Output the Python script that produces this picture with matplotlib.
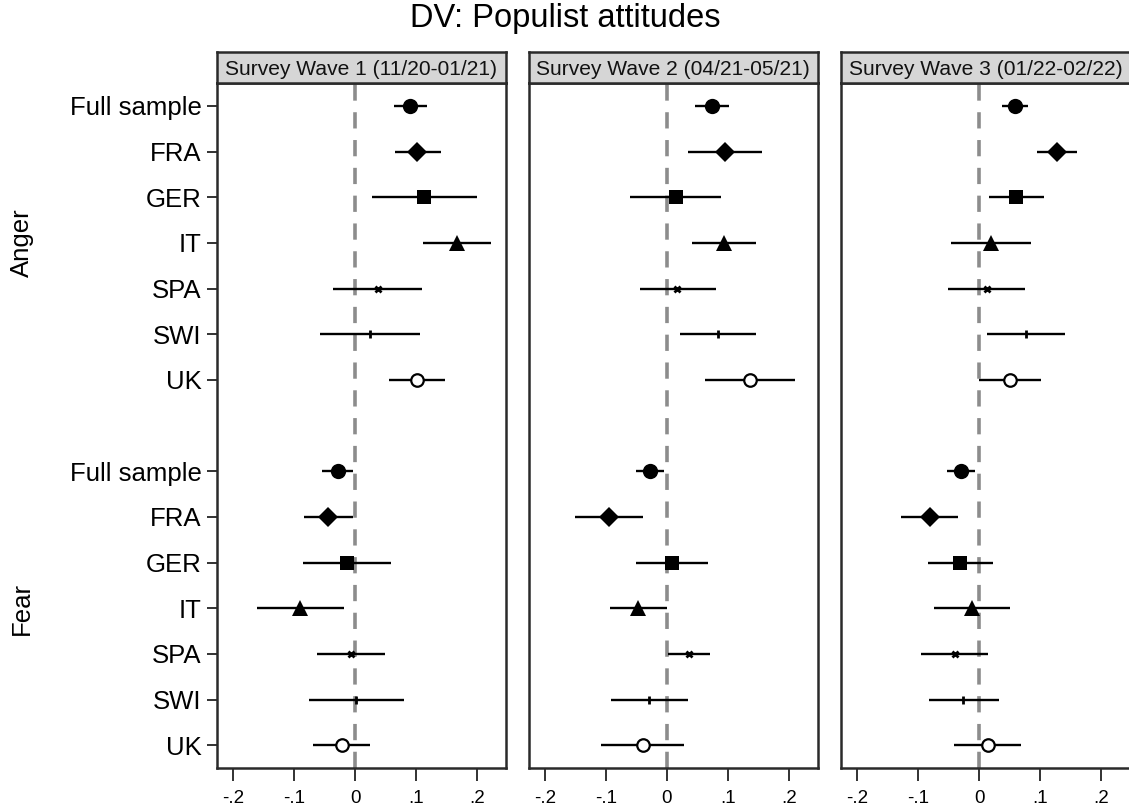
import matplotlib
matplotlib.use("Agg")
import matplotlib.pyplot as plt

plt.rcParams['font.family'] = ['Liberation Sans', 'DejaVu Sans']

categories = ["Full sample", "FRA", "GER", "IT", "SPA", "SWI", "UK"]
groups = ["Anger", "Fear"]
waves = ["Survey Wave 1 (11/20-01/21)", "Survey Wave 2 (04/21-05/21)", "Survey Wave 3 (01/22-02/22)"]
xtick_vals = [-0.2, -0.1, 0.0, 0.1, 0.2]
xtick_labels = ["-.2", "-.1", "0", ".1", ".2"]

# Wave 1
w1_anger_est = [0.090, 0.102, 0.113, 0.167, 0.037, 0.024, 0.102]
w1_anger_lo = [0.063, 0.065, 0.027, 0.111, -0.036, -0.058, 0.056]
w1_anger_hi = [0.118, 0.141, 0.200, 0.223, 0.109, 0.106, 0.148]
w1_fear_est = [-0.028, -0.044, -0.013, -0.091, -0.007, 0.001, -0.022]
w1_fear_lo = [-0.054, -0.084, -0.085, -0.161, -0.063, -0.075, -0.069]
w1_fear_hi = [-0.003, -0.003, 0.059, -0.019, 0.049, 0.080, 0.025]
# Wave 2
w2_anger_est = [0.073, 0.095, 0.014, 0.093, 0.017, 0.084, 0.136]
w2_anger_lo = [0.046, 0.034, -0.061, 0.041, -0.045, 0.022, 0.062]
w2_anger_hi = [0.101, 0.155, 0.089, 0.146, 0.080, 0.146, 0.210]
w2_fear_est = [-0.028, -0.095, 0.009, -0.047, 0.036, -0.030, -0.040]
w2_fear_lo = [-0.051, -0.150, -0.050, -0.093, 0.002, -0.092, -0.108]
w2_fear_hi = [-0.005, -0.039, 0.067, 0.000, 0.070, 0.034, 0.028]
# Wave 3
w3_anger_est = [0.058, 0.127, 0.061, 0.020, 0.012, 0.077, 0.050]
w3_anger_lo = [0.037, 0.095, 0.016, -0.047, -0.051, 0.013, 0.000]
w3_anger_hi = [0.080, 0.160, 0.107, 0.085, 0.075, 0.141, 0.101]
w3_fear_est = [-0.030, -0.081, -0.031, -0.012, -0.040, -0.026, 0.014]
w3_fear_lo = [-0.052, -0.128, -0.084, -0.074, -0.095, -0.083, -0.041]
w3_fear_hi = [-0.007, -0.035, 0.022, 0.051, 0.015, 0.033, 0.069]

wave_data = [
    (w1_anger_est, w1_anger_lo, w1_anger_hi, w1_fear_est, w1_fear_lo, w1_fear_hi),
    (w2_anger_est, w2_anger_lo, w2_anger_hi, w2_fear_est, w2_fear_lo, w2_fear_hi),
    (w3_anger_est, w3_anger_lo, w3_anger_hi, w3_fear_est, w3_fear_lo, w3_fear_hi),
]

marker_styles = [
    dict(marker='o', ms=11, mfc='black', mec='black', mew=0),
    dict(marker='D', ms=10.5, mfc='black', mec='black', mew=0),
    dict(marker='s', ms=10.5, mfc='black', mec='black', mew=0),
    dict(marker='^', ms=12, mfc='black', mec='black', mew=0),
    dict(marker='x', ms=4.5, mfc='black', mec='black', mew=2),
    dict(marker='|', ms=6, mfc='black', mec='black', mew=2),
    dict(marker='o', ms=9, mfc='white', mec='black', mew=1.6),
]

W, H = 1129, 809
fig = plt.figure(figsize=(W / 100, H / 100), dpi=100)
fig.patch.set_facecolor('white')

panel_lefts = [216.7, 528.5, 840.7]
panel_w = 289.5
top_px, bot_px = 83, 768
strip_top = 52

n = len(categories)
anger_pos = list(range(1, n + 1))
fear_pos = list(range(n + 2, 2 * n + 2))

frame_color = '#2a2a2a'

for i, (left, data) in enumerate(zip(panel_lefts, wave_data)):
    ax = fig.add_axes([left / W, (H - bot_px) / H, panel_w / W, (bot_px - top_px) / H])
    ax.axvline(0, color='#8c8c8c', lw=2.6, ls=(0, (4.5, 3.2)), zorder=1)
    a_est, a_lo, a_hi, f_est, f_lo, f_hi = data
    for est, lo, hi, pos in ((a_est, a_lo, a_hi, anger_pos), (f_est, f_lo, f_hi, fear_pos)):
        for k in range(n):
            ax.plot([lo[k], hi[k]], [pos[k], pos[k]], color='black', lw=1.7,
                    solid_capstyle='butt', zorder=2)
            ax.plot([est[k]], [pos[k]], ls='none', zorder=3, **marker_styles[k])
    ax.set_xlim(-0.227, 0.2475)
    ax.set_ylim(2 * n + 1.5, 0.5)
    ax.set_xticks(xtick_vals)
    ax.set_xticklabels(xtick_labels, fontsize=13.5)
    ax.tick_params(axis='x', length=9, width=1.3, color='#222222', pad=7)
    if i == 0:
        ax.set_yticks(anger_pos + fear_pos)
        ax.set_yticklabels(categories + categories, fontsize=18.5)
        ax.tick_params(axis='y', length=7, width=1.3, color='#222222', pad=4)
    else:
        ax.set_yticks([])
    for sp in ax.spines.values():
        sp.set_color(frame_color)
        sp.set_linewidth(1.8)

    sax = fig.add_axes([left / W, (H - top_px) / H, panel_w / W, (top_px - strip_top) / H])
    sax.set_facecolor('#d6d6d6')
    sax.set_xticks([])
    sax.set_yticks([])
    for sp in sax.spines.values():
        sp.set_color(frame_color)
        sp.set_linewidth(1.8)
    sax.text(0.5, 0.45, waves[i], ha='center', va='center', fontsize=15.1,
             transform=sax.transAxes, color='#111111')

# Group labels
ax0_bottom = (H - bot_px) / H
ax0_height = (bot_px - top_px) / H
def ypos_to_fig(y):
    ylo, yhi = 2 * n + 1.5, 0.5
    frac = (y - ylo) / (yhi - ylo)
    return ax0_bottom + frac * ax0_height

anger_center = (anger_pos[0] + anger_pos[-1]) / 2
fear_center = (fear_pos[0] + fear_pos[-1]) / 2
fig.text(22 / W, ypos_to_fig(anger_center), groups[0], rotation=90, ha='center', va='center', fontsize=18.5)
fig.text(22 / W, ypos_to_fig(fear_center), groups[1], rotation=90, ha='center', va='center', fontsize=18.5)

fig.text(565 / W, 1 - 19 / H, "DV: Populist attitudes", ha='center', va='center', fontsize=23.5)

fig.savefig("out.png", dpi=100, facecolor='white')
